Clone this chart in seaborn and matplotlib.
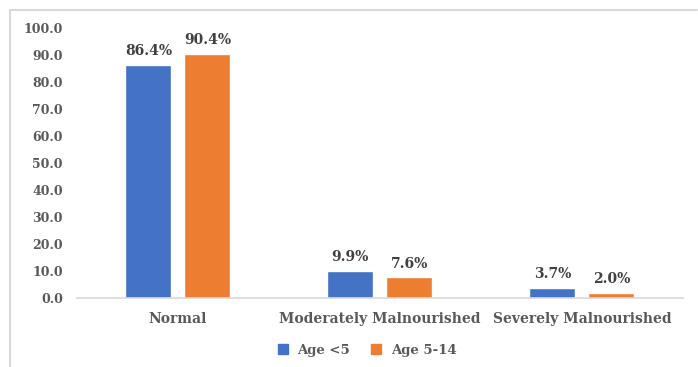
import pandas as pd
import numpy as np
import matplotlib
matplotlib.use('Agg')
import matplotlib.pyplot as plt
import seaborn as sns
from matplotlib.lines import Line2D

# data
categories = ['Normal', 'Moderately Malnourished', 'Severely Malnourished']
groups = ['Age <5', 'Age 5-14']
under5 = [86.4, 9.9, 3.7]
age5_14 = [90.4, 7.6, 2.0]
yticks = [0, 10, 20, 30, 40, 50, 60, 70, 80, 90, 100]

df = pd.DataFrame({
    'Category': categories * 2,
    'Group': [groups[0]] * 3 + [groups[1]] * 3,
    'Value': under5 + age5_14,
})

sns.set_style('white')
plt.rcParams['font.family'] = ['DejaVu Serif']
plt.rcParams['font.weight'] = 'bold'

fig = plt.figure(figsize=(6.98, 3.67), dpi=100)
ax = fig.add_axes([0.110, 0.188, 0.8685, 0.7357])

palette = {'Age <5': '#4472C4', 'Age 5-14': '#ED7D31'}
sns.barplot(data=df, x='Category', y='Value', hue='Group', order=categories,
            hue_order=groups, palette=palette, width=0.584, gap=0.22,
            saturation=1, errorbar=None, ax=ax)

#labels on bars
for cont in ax.containers:
    ax.bar_label(cont, labels=[f'{v:.1f}%' for v in cont.datavalues],
                 padding=5, fontsize=10, fontweight='bold', color='#404040')

ax.set_ylim(0, 100)
ax.set_xlim(-0.5, 2.5)
ax.set_yticks(yticks)
ax.set_yticklabels([f'{v:.1f}' for v in yticks])
ax.tick_params(axis='y', length=0, pad=10, labelsize=9, labelcolor='#595959')
ax.tick_params(axis='x', length=0, pad=10, labelsize=10, labelcolor='#595959')
for lab in ax.get_xticklabels() + ax.get_yticklabels():
    lab.set_fontweight('bold')
ax.set_xlabel('')
ax.set_ylabel('')
for s in ['top', 'right', 'left']:
    ax.spines[s].set_visible(False)
ax.spines['bottom'].set_color('#D9D9D9')
ax.spines['bottom'].set_linewidth(1.2)

ax.get_legend().remove()
handles = [Line2D([], [], marker='s', linestyle='', markersize=6.5,
                  color=palette[g]) for g in groups]
fig.legend(handles, groups, loc='center', bbox_to_anchor=(0.52, 0.045),
           ncol=2, frameon=False, handletextpad=0.1,
           columnspacing=1.0, prop={'weight': 'bold', 'size': 9.5})
for t in fig.legends[0].get_texts():
    t.set_color('#595959')

# light border of the chart area
fig.add_artist(Line2D([10 / 698, 697 / 698], [1 - 10 / 367] * 2,
                      transform=fig.transFigure, color='#D9D9D9', lw=1.5))
fig.add_artist(Line2D([10 / 698] * 2, [0, 1 - 10 / 367],
                      transform=fig.transFigure, color='#D9D9D9', lw=1.5))

fig.savefig('out.png', dpi=100)
